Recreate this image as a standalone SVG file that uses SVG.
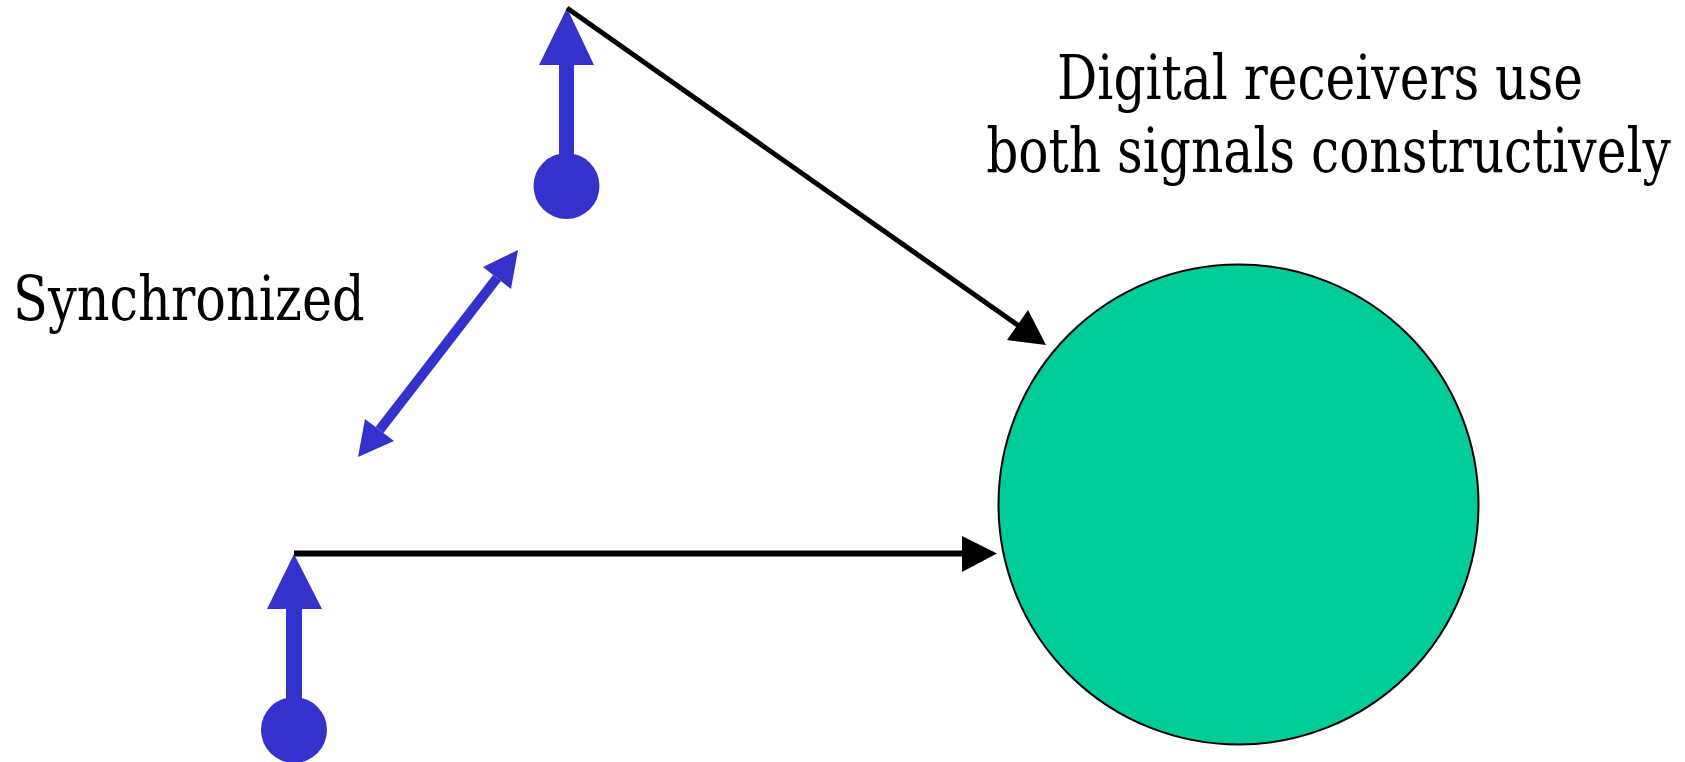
<svg xmlns="http://www.w3.org/2000/svg" width="1685" height="762" viewBox="0 0 1685 762">
<style>
.blue{fill:#3333CC;}
text{font-family:'DejaVu Serif','Liberation Serif',serif;font-size:62px;fill:#000;}
</style>
<rect width="1685" height="762" fill="#fff"/>
<g id="receiver">
<circle cx="1238.5" cy="504.5" r="240" fill="#00CC99" stroke="#000" stroke-width="2"/>
</g>
<g id="antenna-top">
<circle class="blue" cx="566.5" cy="186" r="33"/>
<rect class="blue" x="559" y="64" width="15" height="100"/>
<polygon class="blue" points="567,8 539,65 594,65"/>
</g>
<g id="antenna-bottom">
<circle class="blue" cx="294" cy="730" r="33"/>
<rect class="blue" x="286" y="608" width="16" height="100"/>
<polygon class="blue" points="294,554 267,609 322,609"/>
</g>
<g id="connectors">
<line x1="567" y1="8" x2="1019" y2="326" stroke="#000" stroke-width="5"/>
<polygon points="1046,345 1007,340 1028,310" fill="#000"/>
<line x1="294" y1="553.5" x2="964" y2="553.5" stroke="#000" stroke-width="6"/>
<polygon points="997,553.5 962,536 962,572" fill="#000"/>
<line x1="379.5" y1="430" x2="497" y2="278" stroke="#3333CC" stroke-width="10"/>
<polygon class="blue" points="518,250 483,267 511,289"/>
<polygon class="blue" points="358,457 365,419 394,441"/>
</g>
<g id="labels">
<text transform="translate(13,320) scale(0.822,1)">Synchronized</text>
<text transform="translate(1320,99) scale(0.81,1)" text-anchor="middle">Digital receivers use</text>
<text transform="translate(1328.5,172) scale(0.81,1)" text-anchor="middle">both signals constructively</text>
</g>
</svg>
